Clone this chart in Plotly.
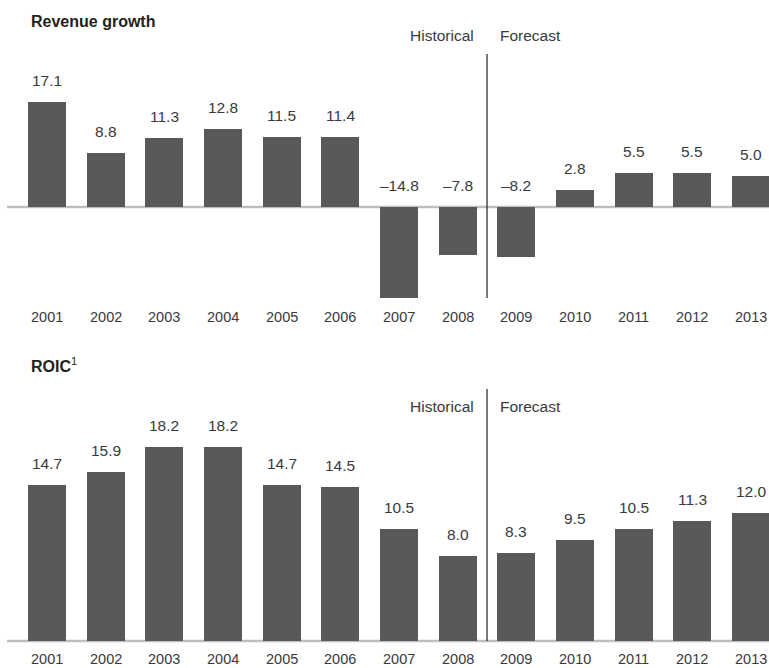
import plotly.graph_objects as go

# Data
years = [2001, 2002, 2003, 2004, 2005, 2006, 2007, 2008, 2009, 2010, 2011, 2012, 2013]
year_labels = [str(y) for y in years]
revenue_growth = [17.1, 8.8, 11.3, 12.8, 11.5, 11.4, -14.8, -7.8, -8.2, 2.8, 5.5, 5.5, 5.0]
roic = [14.7, 15.9, 18.2, 18.2, 14.7, 14.5, 10.5, 8.0, 8.3, 9.5, 10.5, 11.3, 12.0]
panel_titles = ["<b>Revenue growth</b>", "<b>ROIC</b><sup>1</sup>"]
period_labels = ["Historical", "Forecast"]

W, H = 769, 668
FONT = "Liberation Sans Narrow, Arial Narrow, Liberation Sans, Arial, sans-serif"
BAR = "#58595b"
BASE = "#bcbec0"
INK = "#231f20"
TEXT = "#3a3a3c"


def py(pix):
    """Pixel row -> paper y."""
    return 1 - pix / H


def px(pix):
    """Pixel column -> paper x."""
    return pix / W


# horizontal scale: year centres
x0_pix, step = 47.0, 58.67
x_range = [years[0] - x0_pix / step, years[0] + (W - x0_pix) / step]

# panel geometry (pixels): domain top, domain bottom, zero line, px per unit
panels = [
    dict(top=30, bottom=300, zero=207, scale=6.13, vals=revenue_growth,
         title_y=21, head_y=36, year_y=316.5, div=(54, 298)),
    dict(top=380, bottom=650, zero=641, scale=10.64, vals=roic,
         title_y=365, head_y=407, year_y=659, div=(389, 641)),
]

fig = go.Figure()
annotations = []
shapes = []

for i, p in enumerate(panels):
    n = "" if i == 0 else str(i + 1)
    xa, ya = "x" + n, "y" + n
    fig.add_trace(go.Bar(
        x=years, y=p["vals"], width=0.648, marker=dict(color=BAR, line=dict(width=0)),
        xaxis=xa, yaxis=ya, hoverinfo="skip", showlegend=False,
    ))
    y_lo = -(p["bottom"] - p["zero"]) / p["scale"]
    y_hi = (p["zero"] - p["top"]) / p["scale"]
    axis_common = dict(showgrid=False, zeroline=False, showticklabels=False,
                       showline=False, ticks="", fixedrange=True)
    fig.update_layout(**{
        ("xaxis" + n): dict(domain=[0, 1], range=x_range, anchor=ya, **axis_common),
        ("yaxis" + n): dict(domain=[py(p["bottom"]), py(p["top"])], range=[y_lo, y_hi],
                            anchor=xa, **axis_common),
    })

    # baseline
    shapes.append(dict(type="line", xref=xa, yref=ya, layer="below",
                       x0=years[0] - (x0_pix - 7) / step, x1=x_range[1] + 0.2, y0=0, y1=0,
                       line=dict(color=BASE, width=2.5)))
    # historical / forecast divider
    shapes.append(dict(type="line", xref=xa, yref="paper",
                       x0=2008.5, x1=2008.5, y0=py(p["div"][1]), y1=py(p["div"][0]),
                       line=dict(color=INK, width=1.2)))

    # value labels
    for yr, v in zip(years, p["vals"]):
        annotations.append(dict(
            x=yr, y=max(v, 0), xref=xa, yref=ya, text=f"{v:.1f}".replace("-", "\u2013"),
            showarrow=False, xanchor="center", yanchor="middle", yshift=21.5,
            font=dict(family=FONT, size=15.5, color=TEXT)))
    # year labels
    for yr, lab in zip(years, year_labels):
        annotations.append(dict(
            x=yr, y=py(p["year_y"]), xref=xa, yref="paper", text=lab,
            showarrow=False, xanchor="center", yanchor="middle",
            font=dict(family=FONT, size=14.5, color=TEXT)))
    # panel title
    annotations.append(dict(
        x=px(29), y=py(p["title_y"]), xref="paper", yref="paper", text=panel_titles[i],
        showarrow=False, xanchor="left", yanchor="middle",
        font=dict(family=FONT, size=16, color=INK)))
    # period headers
    annotations.append(dict(
        x=px(476), y=py(p["head_y"]), xref="paper", yref="paper", text=period_labels[0],
        showarrow=False, xanchor="right", yanchor="middle",
        font=dict(family=FONT, size=15.5, color=TEXT)))
    annotations.append(dict(
        x=px(498), y=py(p["head_y"]), xref="paper", yref="paper", text=period_labels[1],
        showarrow=False, xanchor="left", yanchor="middle",
        font=dict(family=FONT, size=15.5, color=TEXT)))

fig.update_layout(
    width=W, height=H, margin=dict(l=0, r=0, t=0, b=0),
    paper_bgcolor="white", plot_bgcolor="white",
    bargap=0, annotations=annotations, shapes=shapes,
    font=dict(family=FONT, color=TEXT),
)

fig.write_html("out.html")
